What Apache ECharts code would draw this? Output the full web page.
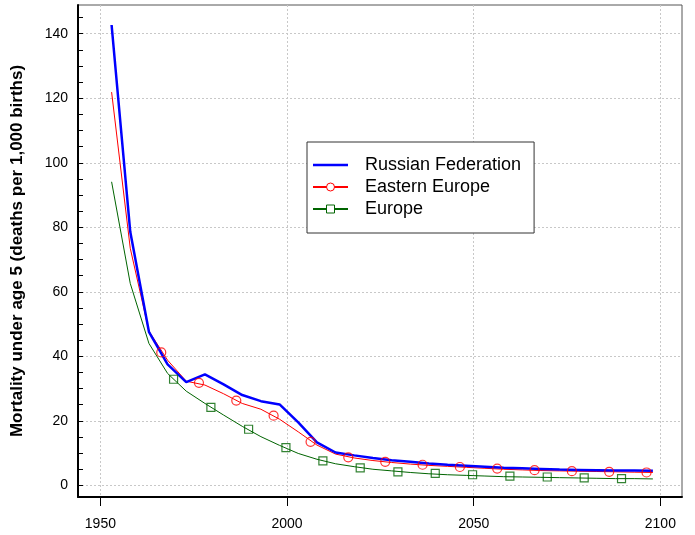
<!DOCTYPE html>
<html>
<head>
<meta charset="utf-8">
<script src="https://cdn.jsdelivr.net/npm/echarts@6/dist/echarts.min.js"></script>
<style>
  html, body { margin: 0; padding: 0; background: #fff; }
  #chart { width: 695px; height: 535px; }
</style>
</head>
<body>
<div id="chart"></div>
<script>
// period mid-years (5-year steps)
var years = [1953, 1958, 1963, 1968, 1973, 1978, 1983, 1988, 1993, 1998,
             2003, 2008, 2013, 2018, 2023, 2028, 2033, 2038, 2043, 2048,
             2053, 2058, 2063, 2068, 2073, 2078, 2083, 2088, 2093, 2098];

var russia = [142.7, 78.6, 47.6, 37.5, 32.0, 34.4, 31.3, 28.0, 26.1, 25.1,
              19.5, 13.3, 10.2, 9.3, 8.5, 7.8, 7.3, 6.8, 6.4, 6.1,
              5.8, 5.5, 5.3, 5.1, 4.9, 4.8, 4.7, 4.6, 4.6, 4.5];

var easternEurope = [121.9, 73.5, 47.8, 38.8, 32.3, 31.1, 28.4, 25.4, 23.6, 20.5,
                     16.6, 12.5, 9.7, 8.5, 7.7, 7.1, 6.6, 6.2, 5.9, 5.6,
                     5.3, 5.0, 4.8, 4.6, 4.5, 4.4, 4.3, 4.2, 4.1, 4.0];

var europe = [94.1, 62.6, 44.0, 34.7, 29.2, 25.4, 21.8, 18.3, 15.1, 12.4,
              9.9, 8.1, 6.7, 5.8, 5.0, 4.5, 4.0, 3.6, 3.3, 3.1,
              2.9, 2.7, 2.6, 2.5, 2.4, 2.3, 2.2, 2.1, 2.1, 2.0];

// marker positions as they sit in the picture
var eeMarkYears = [1966.3, 1976.4, 1986.4, 1996.4, 2006.3, 2016.4, 2026.3,
                   2036.3, 2046.3, 2056.3, 2066.3, 2076.3, 2086.3, 2096.3];
var eeMarkValues = [41.2, 31.8, 26.3, 21.6, 13.5, 8.7, 7.3,
                    6.4, 5.7, 5.2, 4.7, 4.4, 4.2, 4.0];

var euMarkYears = [1969.6, 1979.6, 1989.7, 1999.7, 2009.6, 2019.6, 2029.7,
                   2039.7, 2049.7, 2059.7, 2069.7, 2079.6, 2089.6];
var euMarkValues = [32.9, 24.2, 17.4, 11.7, 7.6, 5.4, 4.2,
                    3.7, 3.3, 2.9, 2.6, 2.3, 2.1];

var xTicks = [1950, 2000, 2050, 2100];
var yTicks = [0, 20, 40, 60, 80, 100, 120, 140];
var yMinorTicks = [0, 5, 10, 15, 20, 25, 30, 35, 40, 45, 50, 55, 60, 65, 70, 75,
                   80, 85, 90, 95, 100, 105, 110, 115, 120, 125, 130, 135, 140, 145];

function pairs(xs, ys) {
    return xs.map(function (x, i) { return [x, ys[i]]; });
}

var chart = echarts.init(document.getElementById('chart'));

var font = '"Liberation Sans", Arial, sans-serif';
var gridLine = { show: true, lineStyle: { color: '#c8c8c8', type: [2, 2], width: 1 } };

var option = {
    animation: false,
    backgroundColor: '#fff',
    grid: {
        left: 78, top: 5, right: 13, bottom: 38,
        show: true, borderColor: '#555', borderWidth: 1
    },
    legend: {
        orient: 'vertical',
        left: 307,
        top: 142,
        padding: [14, 13, 15, 5],
        borderColor: '#333',
        borderWidth: 1,
        backgroundColor: '#fff',
        itemWidth: 35,
        itemHeight: 10,
        itemGap: 4,
        textStyle: { fontFamily: font, fontSize: 18, color: '#000', lineHeight: 18, padding: [0, 0, 0, 12] },
        data: [
            { name: 'Russian Federation', icon: 'path://M0,0H35V2.5H0Z' },
            { name: 'Eastern Europe', itemStyle: { color: '#fff', borderColor: '#ff0000', borderWidth: 1 } },
            { name: 'Europe', itemStyle: { color: '#fff', borderColor: '#006400', borderWidth: 1 } }
        ]
    },
    xAxis: {
        type: 'value',
        min: 1944,
        max: 2105.8,
        axisLine: { show: true, onZero: false, lineStyle: { color: '#000', width: 2 } },
        axisTick: { show: true, inside: false, length: 9, customValues: xTicks, lineStyle: { color: '#000', width: 1 } },
        axisLabel: {
            customValues: xTicks, margin: 20, fontFamily: font, fontSize: 14, color: '#000',
            formatter: function (v) { return String(v); }
        },
        splitLine: gridLine
    },
    yAxis: [
        {
            type: 'value',
            min: -3.6,
            max: 148.9,
            name: 'Mortality under age 5 (deaths per 1,000 births)',
            nameLocation: 'middle',
            nameGap: 52,
            nameTextStyle: { fontFamily: font, fontSize: 17, fontWeight: 'bold', color: '#000' },
            axisLine: { show: true, onZero: false, lineStyle: { color: '#000', width: 2 } },
            axisTick: { show: true, inside: true, length: 5, customValues: yMinorTicks, lineStyle: { color: '#000', width: 1 } },
            axisLabel: { customValues: yTicks, margin: 10, fontFamily: font, fontSize: 14, color: '#000' },
            splitLine: { show: false }
        },
        {
            type: 'value',
            min: -3.6,
            max: 148.9,
            position: 'left',
            axisLine: { show: false },
            axisTick: { show: false, customValues: yTicks },
            axisLabel: { show: false },
            splitLine: gridLine
        }
    ],
    series: [
        {
            name: 'Russian Federation',
            type: 'line',
            data: pairs(years, russia),
            symbol: 'none',
            lineStyle: { color: '#0000ff', width: 2.5 },
            itemStyle: { color: '#0000ff' },
            z: 4
        },
        {
            name: 'Eastern Europe',
            type: 'line',
            data: pairs(years, easternEurope),
            symbol: 'circle',
            showSymbol: false,
            lineStyle: { color: '#ff0000', width: 1 },
            itemStyle: { color: '#ff0000' },
            z: 3
        },
        {
            name: 'Europe',
            type: 'line',
            data: pairs(years, europe),
            symbol: 'rect',
            showSymbol: false,
            lineStyle: { color: '#006400', width: 1 },
            itemStyle: { color: '#006400' },
            z: 3
        },
        {
            name: 'Eastern Europe markers',
            type: 'scatter',
            data: pairs(eeMarkYears, eeMarkValues),
            symbol: 'circle',
            symbolSize: 9,
            itemStyle: { color: 'rgba(0,0,0,0)', borderColor: '#ff0000', borderWidth: 1.2 },
            z: 5
        },
        {
            name: 'Europe markers',
            type: 'scatter',
            data: pairs(euMarkYears, euMarkValues),
            symbol: 'rect',
            symbolSize: 8,
            itemStyle: { color: 'rgba(0,0,0,0)', borderColor: '#006400', borderWidth: 1.2 },
            z: 5
        }
    ]
};

chart.setOption(option);
</script>
</body>
</html>
